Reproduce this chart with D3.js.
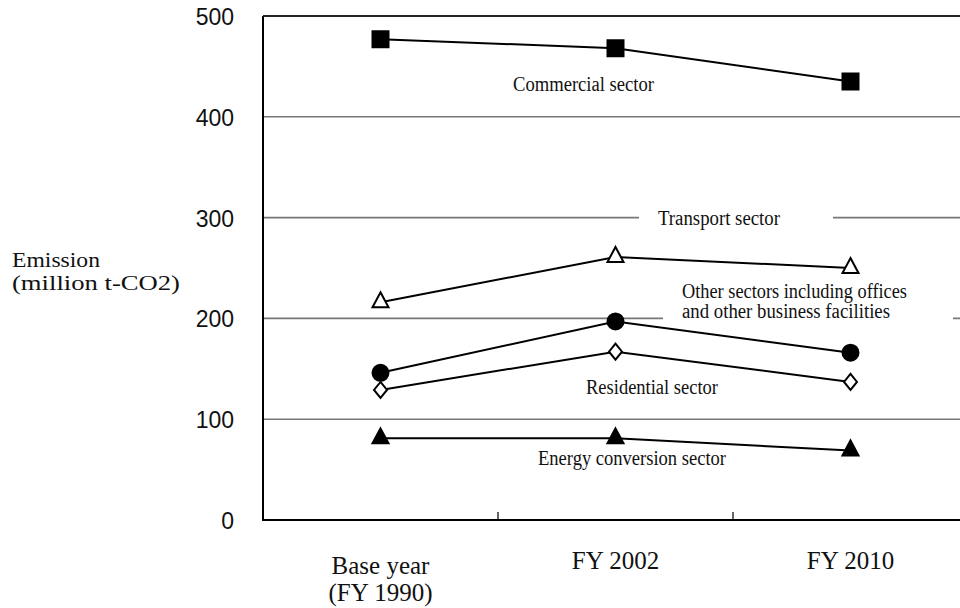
<!DOCTYPE html>
<html>
<head>
<meta charset="utf-8">
<script src="https://cdn.jsdelivr.net/npm/d3@7"></script>
<style>
  body { margin: 0; background: #fff; }
  svg { display: block; }
  .tickLabel { font-family: "Liberation Sans", Arial, sans-serif; font-size: 23px; fill: #111; }
  .serif { font-family: "Liberation Serif", "Times New Roman", serif; fill: #111; }
</style>
</head>
<body>
<div id="vis"></div>
<script>
// chart values
var categories = [["Base year", "(FY 1990)"], ["FY 2002"], ["FY 2010"]];
var commercial = [477, 468, 435];
var transport = [216, 261, 250];
var otherSectors = [146, 197, 166];
var residential = [129, 167, 137];
var energyConversion = [81, 81, 69];
var yTicks = [0, 100, 200, 300, 400, 500];

var width = 960, height = 608;
// NOTE: can't use "top" as a global name (window.top)
var margin = {left: 263, right: 968, top: 16, bottom: 520};

var svg = d3.select('#vis').append('svg')
    .attr('width', width)
    .attr('height', height);

var xScale = d3.scaleBand().domain([0, 1, 2]).range([margin.left, margin.right]);
var yScale = d3.scaleLinear().domain([0, 500]).range([margin.bottom, margin.top]);
function cx(i) { return xScale(i) + xScale.bandwidth() / 2; }

//gridlines (0 and 500 are the frame)
svg.append('g').selectAll('line')
    .data(yTicks.filter(function(d){ return d > 0 && d < 500; }))
    .enter().append('line')
    .attr('x1', margin.left).attr('x2', margin.right)
    .attr('y1', function(d){ return yScale(d); })
    .attr('y2', function(d){ return yScale(d); })
    .attr('stroke', '#777').attr('stroke-width', 1.6);

// white boxes behind two of the labels cut the gridlines
svg.append('rect').attr('x', 639).attr('y', 206).attr('width', 194).attr('height', 26).attr('fill', '#fff');
svg.append('rect').attr('x', 663).attr('y', 281).attr('width', 290).attr('height', 41).attr('fill', '#fff');

// frame: left axis, top line, bottom axis
svg.append('line').attr('x1', margin.left).attr('x2', margin.left).attr('y1', yScale(500)).attr('y2', yScale(0))
    .attr('stroke', '#000').attr('stroke-width', 2);
svg.append('line').attr('x1', margin.left).attr('x2', margin.right).attr('y1', yScale(500)).attr('y2', yScale(500))
    .attr('stroke', '#222').attr('stroke-width', 2);
svg.append('line').attr('x1', margin.left - 1).attr('x2', margin.right).attr('y1', yScale(0)).attr('y2', yScale(0))
    .attr('stroke', '#000').attr('stroke-width', 2);

// inner x ticks between categories
svg.append('g').selectAll('line')
    .data([1, 2])
    .enter().append('line')
    .attr('x1', function(d){ return xScale(d); })
    .attr('x2', function(d){ return xScale(d); })
    .attr('y1', yScale(0)).attr('y2', yScale(0) - 8)
    .attr('stroke', '#000').attr('stroke-width', 1.2);

// y tick labels
svg.append('g').selectAll('text')
    .data(yTicks)
    .enter().append('text')
    .attr('class', 'tickLabel')
    .attr('x', 234)
    .attr('y', function(d){ return yScale(d) + 1; })
    .attr('dy', '0.35em')
    .attr('text-anchor', 'end')
    .text(function(d){ return d; });

// x category labels
var xLab = svg.append('g').selectAll('text')
    .data(categories)
    .enter().append('text')
    .attr('class', 'serif')
    .attr('text-anchor', 'middle')
    .style('font-size', '25px')
    .attr('y', function(d){ return d.length > 1 ? 574 : 569; });
xLab.selectAll('tspan')
    .data(function(d, i){ return d.map(function(t){ return {t: t, i: i}; }); })
    .enter().append('tspan')
    .attr('x', function(d){ return cx(d.i); })
    .attr('dy', function(d, j){ return j === 0 ? 0 : 27; })
    .text(function(d){ return d.t; });

// y axis title
svg.append('text').attr('class', 'serif')
    .attr('x', 12).attr('y', 267)
    .style('font-size', '22px')
    .attr('textLength', 88).attr('lengthAdjust', 'spacingAndGlyphs')
    .text('Emission');
svg.append('text').attr('class', 'serif')
    .attr('x', 12).attr('y', 290)
    .style('font-size', '22px')
    .attr('textLength', 168).attr('lengthAdjust', 'spacingAndGlyphs')
    .text('(million t-CO2)');

// marker shapes
var shapes = {
    square: 'M-8,-8H8V8H-8Z',
    triangle: 'M0,-10L8,5H-8Z',
    diamond: 'M0,-8L6.5,0L0,8L-6.5,0Z',
    circle: d3.symbol().type(d3.symbolCircle).size(Math.PI * 64)()
};

var series = [
    {key: 'commercial', values: commercial, shape: 'square', fill: '#000'},
    {key: 'transport', values: transport, shape: 'triangle', fill: '#fff'},
    {key: 'other', values: otherSectors, shape: 'circle', fill: '#000'},
    {key: 'residential', values: residential, shape: 'diamond', fill: '#fff'},
    {key: 'energy', values: energyConversion, shape: 'triangle', fill: '#000'}
];

var line = d3.line()
    .x(function(d, i){ return cx(i); })
    .y(function(d){ return yScale(d); });

var sg = svg.append('g').selectAll('g')
    .data(series)
    .enter().append('g');

sg.append('path')
    .attr('d', function(s){ return line(s.values); })
    .attr('fill', 'none')
    .attr('stroke', '#000')
    .attr('stroke-width', 2);

sg.selectAll('.marker')
    .data(function(s){ return s.values.map(function(v, i){ return {v: v, i: i, s: s}; }); })
    .enter().append('path')
    .attr('class', 'marker')
    .attr('transform', function(d){ return 'translate(' + cx(d.i) + ',' + yScale(d.v) + ')'; })
    .attr('d', function(d){ return shapes[d.s.shape]; })
    .attr('fill', function(d){ return d.s.fill; })
    .attr('stroke', '#000')
    .attr('stroke-width', 2)
    .attr('stroke-linejoin', 'miter');

// series annotations
var notes = [
    {text: 'Commercial sector', x: 513, y: 91, len: 141},
    {text: 'Transport sector', x: 658, y: 225, len: 122},
    {text: 'Other sectors including offices', x: 682, y: 298, len: 225},
    {text: 'and other business facilities', x: 682, y: 318, len: 208},
    {text: 'Residential sector', x: 586, y: 394, len: 132},
    {text: 'Energy conversion sector', x: 538, y: 465, len: 188}
];
svg.append('g').selectAll('text')
    .data(notes)
    .enter().append('text')
    .attr('class', 'serif')
    .style('font-size', '20px')
    .attr('x', function(d){ return d.x; })
    .attr('y', function(d){ return d.y; })
    .attr('textLength', function(d){ return d.len; })
    .attr('lengthAdjust', 'spacingAndGlyphs')
    .text(function(d){ return d.text; });
</script>
</body>
</html>
